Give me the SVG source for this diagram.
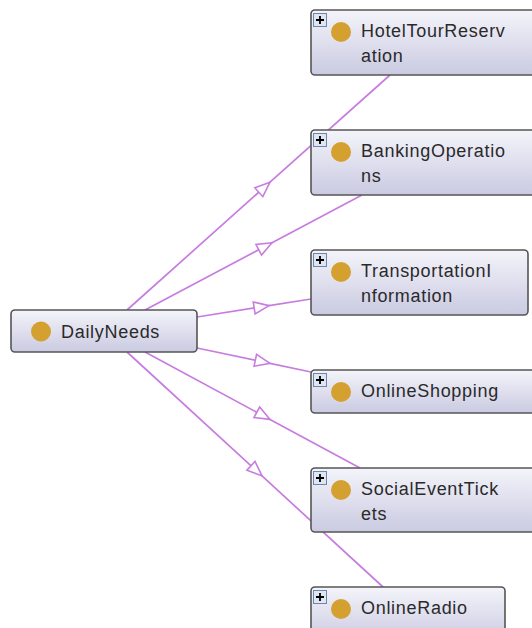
<svg xmlns="http://www.w3.org/2000/svg" width="532" height="628" viewBox="0 0 532 628">
<style>
.box{fill:url(#g);stroke:#555;stroke-width:1.6}
.lbl{font-family:"Liberation Sans",Arial,sans-serif;font-size:18px;letter-spacing:0.7px;fill:#2a2a2a}
.dot{fill:#d4a02f}
.pb{fill:#dde6f2;stroke:#6f86a8;stroke-width:1}
.pl{stroke:#000;stroke-width:1.8}
.edge{fill:none;stroke:#c77ddf;stroke-width:1.7;marker-mid:url(#tri)}
</style>
<defs>
<linearGradient id="g" x1="0" y1="0" x2="0" y2="1">
<stop offset="0" stop-color="#f4f4fa"/>
<stop offset="1" stop-color="#cacae2"/>
</linearGradient>
<marker id="tri" markerUnits="userSpaceOnUse" viewBox="-17 -8 19 16" refX="0" refY="0" markerWidth="19" markerHeight="16" orient="auto" overflow="visible">
<path d="M0,0 L-15,-6 L-15,6 Z" fill="#fff" stroke="#c77ddf" stroke-width="1.6"/>
</marker>
</defs>
<g id="connectors">
<path class="edge" d="M127,310 L270,182.2 L390,75"/>
<path class="edge" d="M145,310 L272,242.7 L362,195"/>
<path class="edge" d="M197,317 L269,305.6 L311,299"/>
<path class="edge" d="M197,348 L270,363.4 L311,372"/>
<path class="edge" d="M145,352 L270,419.4 L360,468"/>
<path class="edge" d="M127,352 L262,475.9 L383,587"/>
</g>
<g id="DailyNeeds">
<rect class="box" x="11" y="310" width="186" height="42" rx="4"/>
<circle class="dot" cx="41" cy="331.5" r="10"/>
<text class="lbl" x="61" y="338">DailyNeeds</text>
</g>
<g id="HotelTourReservation">
<rect class="box" x="311" y="10" width="240" height="65" rx="4"/>
<rect class="pb" x="313.5" y="13.5" width="13" height="13"/>
<path class="pl" d="M316,20 H324 M320,16 V24"/>
<circle class="dot" cx="341" cy="32" r="10"/>
<text class="lbl" x="361" y="37">HotelTourReserv</text>
<text class="lbl" x="361" y="62">ation</text>
</g>
<g id="BankingOperations">
<rect class="box" x="311" y="130" width="240" height="65" rx="4"/>
<rect class="pb" x="313.5" y="133.5" width="13" height="13"/>
<path class="pl" d="M316,140 H324 M320,136 V144"/>
<circle class="dot" cx="341" cy="152" r="10"/>
<text class="lbl" x="361" y="157">BankingOperatio</text>
<text class="lbl" x="361" y="182">ns</text>
</g>
<g id="TransportationInformation">
<rect class="box" x="311" y="250" width="217" height="65" rx="4"/>
<rect class="pb" x="313.5" y="253.5" width="13" height="13"/>
<path class="pl" d="M316,260 H324 M320,256 V264"/>
<circle class="dot" cx="341" cy="272" r="10"/>
<text class="lbl" x="361" y="277">TransportationI</text>
<text class="lbl" x="361" y="302">nformation</text>
</g>
<g id="OnlineShopping">
<rect class="box" x="311" y="370" width="240" height="43" rx="4"/>
<rect class="pb" x="313.5" y="373.5" width="13" height="13"/>
<path class="pl" d="M316,380 H324 M320,376 V384"/>
<circle class="dot" cx="341" cy="392" r="10"/>
<text class="lbl" x="361" y="397">OnlineShopping</text>
</g>
<g id="SocialEventTickets">
<rect class="box" x="311" y="468" width="240" height="64" rx="4"/>
<rect class="pb" x="313.5" y="471.5" width="13" height="13"/>
<path class="pl" d="M316,478 H324 M320,474 V482"/>
<circle class="dot" cx="341" cy="490" r="10"/>
<text class="lbl" x="361" y="495">SocialEventTick</text>
<text class="lbl" x="361" y="520">ets</text>
</g>
<g id="OnlineRadio">
<rect class="box" x="311" y="587" width="194" height="55" rx="4"/>
<rect class="pb" x="313.5" y="590.5" width="13" height="13"/>
<path class="pl" d="M316,597 H324 M320,593 V601"/>
<circle class="dot" cx="341" cy="609" r="10"/>
<text class="lbl" x="361" y="614">OnlineRadio</text>
</g>
</svg>
